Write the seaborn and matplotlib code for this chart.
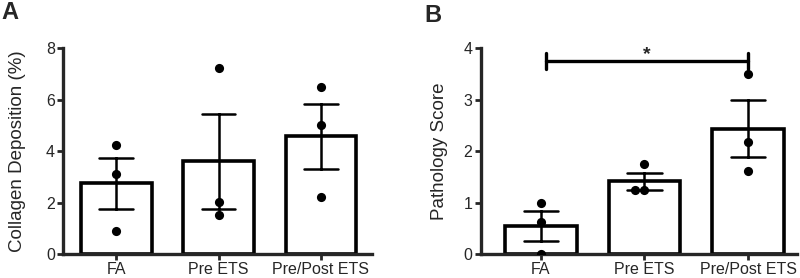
import seaborn as sns
import matplotlib.pyplot as plt
import pandas as pd

groups = ["FA", "Pre ETS", "Pre/Post ETS"]

# panel A: collagen deposition (%), three animals per group
collagen_fa = [4.24, 3.11, 0.90]
collagen_pre = [7.24, 2.04, 1.51]
collagen_prepost = [6.50, 5.03, 2.20]

# panel B: pathology score
path_fa = [1.0, 0.625, 0.0]
path_pre = [1.75, 1.25, 1.25]
path_prepost = [3.50, 2.18, 1.62]

sig_label = "*"
sig_y = 3.75

df_a = pd.DataFrame({
    "group": [g for g, v in zip(groups, [collagen_fa, collagen_pre, collagen_prepost]) for _ in v],
    "value": collagen_fa + collagen_pre + collagen_prepost,
})
df_b = pd.DataFrame({
    "group": [g for g, v in zip(groups, [path_fa, path_pre, path_prepost]) for _ in v],
    "value": path_fa + path_pre + path_prepost,
})

sns.set_style("ticks")
plt.rcParams['font.family'] = ['Liberation Sans', 'DejaVu Sans']
plt.rcParams['axes.linewidth'] = 2.4
plt.rcParams['xtick.major.width'] = 2.0
plt.rcParams['ytick.major.width'] = 2.0
plt.rcParams['xtick.major.size'] = 4
plt.rcParams['ytick.major.size'] = 4

fig = plt.figure(figsize=(8, 2.78), dpi=100)
ax_a = fig.add_axes([0.079, 0.086, 0.386, 0.741])
ax_b = fig.add_axes([0.601, 0.086, 0.395, 0.741])


def draw(ax, df):
    sns.barplot(data=df, x="group", y="value", order=groups,
                color="white", edgecolor="black", linewidth=2.6,
                width=0.69, errorbar="se", capsize=0.33,
                err_kws={"color": "black", "linewidth": 1.8}, ax=ax)
    sns.swarmplot(data=df, x="group", y="value", order=groups,
                  color="black", size=6.6, ax=ax)
    sns.despine(ax=ax)
    ax.set_xlabel("")
    ax.tick_params(labelsize=11.5, pad=2)


draw(ax_a, df_a)
ax_a.set_ylim(0, 8)
ax_a.set_yticks([0, 2, 4, 6, 8])
ax_a.set_xlim(-0.52, 2.5)
ax_a.set_ylabel("Collagen Deposition (%)", fontsize=13.5, labelpad=14)

draw(ax_b, df_b)
ax_b.set_ylim(0, 4)
ax_b.set_yticks([0, 1, 2, 3, 4])
ax_b.set_xlim(-0.58, 2.47)
ax_b.set_ylabel("Pathology Score", fontsize=13.5, labelpad=11)

# significance bracket FA vs Pre/Post ETS
ax_b.plot([0.05, 2.0], [sig_y, sig_y], color="black", lw=2.4, clip_on=False)
ax_b.plot([0.05, 0.05], [sig_y - 0.16, sig_y + 0.16], color="black", lw=2.4, clip_on=False)
ax_b.plot([2.0, 2.0], [sig_y - 0.16, sig_y + 0.16], color="black", lw=2.4, clip_on=False)
ax_b.text(1.02, sig_y - 0.05, sig_label, ha="center", va="bottom",
          fontsize=14, fontweight="bold")

fig.text(0.002, 0.995, "A", fontsize=17, fontweight="bold", va="top")
fig.text(0.531, 0.985, "B", fontsize=17, fontweight="bold", va="top")

fig.savefig("out.png", dpi=100)
